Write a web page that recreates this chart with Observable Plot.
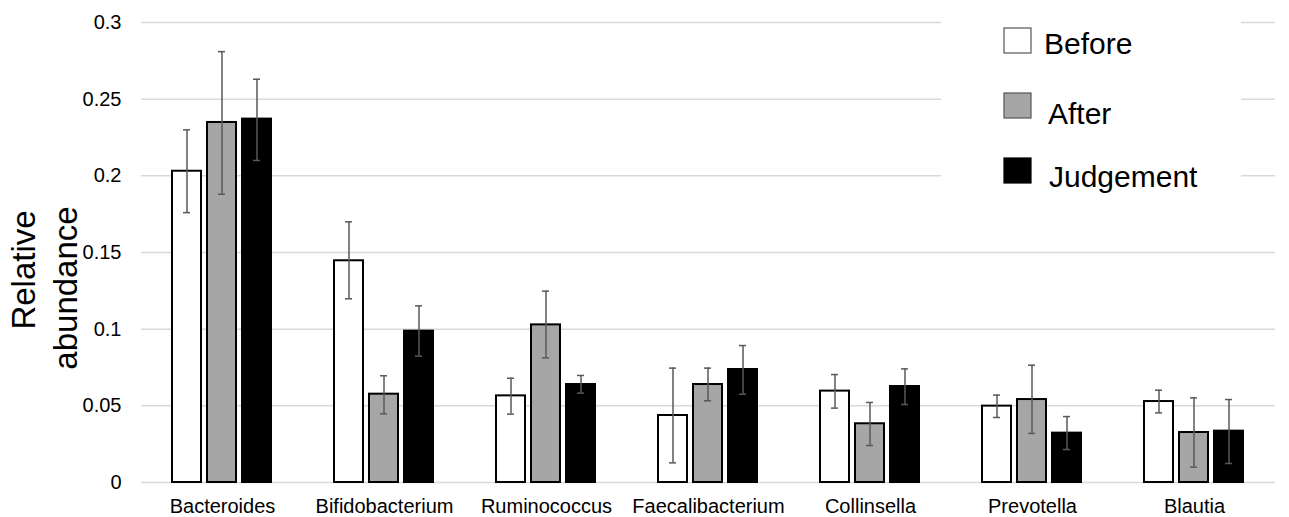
<!DOCTYPE html>
<html><head><meta charset="utf-8">
<script src="https://cdn.jsdelivr.net/npm/d3@7"></script>
<script src="https://cdn.jsdelivr.net/npm/@observablehq/plot@0.6"></script>
<style>body{margin:0;background:#fff;} #chart{width:1289px;height:517px;}</style>
</head><body><div id="chart"></div>
<script>
const genera = ["Bacteroides","Bifidobacterium","Ruminococcus","Faecalibacterium","Collinsella","Prevotella","Blautia"];
const seriesNames = ["Before","After","Judgement"];
const seriesColors = ["#ffffff","#a6a6a6","#000000"];
const yTicks = [0, 0.05, 0.1, 0.15, 0.2, 0.25, 0.3];

const beforeValues = [0.203, 0.1446, 0.0565, 0.0437, 0.0596, 0.0498, 0.0528];
const beforeLow    = [0.176, 0.1198, 0.0446, 0.0128, 0.0485, 0.0424, 0.0454];
const beforeHigh   = [0.230, 0.170,  0.068,  0.0746, 0.0704, 0.057,  0.0602];

const afterValues  = [0.2348, 0.0576, 0.1028, 0.0639, 0.0383, 0.0541, 0.0326];
const afterLow     = [0.188,  0.0448, 0.0813, 0.0533, 0.0241, 0.032,  0.010];
const afterHigh    = [0.281,  0.0696, 0.1248, 0.0746, 0.0522, 0.0765, 0.0552];

const judgeValues  = [0.237, 0.0987, 0.0639, 0.0737, 0.0626, 0.0322, 0.0335];
const judgeLow     = [0.210, 0.0824, 0.0583, 0.0576, 0.0509, 0.0215, 0.0124];
const judgeHigh    = [0.263, 0.1152, 0.0698, 0.0893, 0.0741, 0.043,  0.0541];

const seriesData = [
  [beforeValues, beforeLow, beforeHigh],
  [afterValues, afterLow, afterHigh],
  [judgeValues, judgeLow, judgeHigh]
];
const data = [];
genera.forEach((g, i) => {
  seriesNames.forEach((s, j) => {
    const [v, lo, hi] = seriesData[j];
    data.push({genus: g, series: s, value: v[i], lo: lo[i], hi: hi[i]});
  });
});

const font = "'Liberation Sans', Arial, Helvetica, sans-serif";
const errColor = "#595959";

const plot = Plot.plot({
  width: 1289, height: 517,
  marginLeft: 139, marginRight: 12, marginTop: 22, marginBottom: 35,
  style: {fontFamily: font, background: "#fff", color: "#000"},
  fx: {domain: genera, padding: 0, axis: null},
  x: {domain: seriesNames, paddingInner: 0.167, paddingOuter: 0.84, axis: null},
  y: {domain: [0, 0.3], axis: null},
  color: {domain: seriesNames, range: seriesColors},
  marks: [
    Plot.ruleY(yTicks, {stroke: "#d9d9d9", strokeWidth: 1.5}),
    Plot.axisY({ticks: yTicks, tickFormat: d => d === 0 ? "0" : String(d), tickSize: 0, tickPadding: 20, fontSize: 20, label: null, fill: "#000"}),
    Plot.axisFx({anchor: "bottom", tickSize: 0, tickPadding: 16, fontSize: 20, label: null, fill: "#000"}),
    Plot.barY(data, {fx: "genus", x: "series", y: "value", fill: "series", stroke: "#000", strokeWidth: 2}),
    Plot.ruleX(data, {fx: "genus", x: "series", y1: "lo", y2: "hi", stroke: errColor, strokeWidth: 1.5}),
    Plot.tickY(data, {fx: "genus", x: "series", y: "lo", insetLeft: 11, insetRight: 11, stroke: errColor, strokeWidth: 1.5}),
    Plot.tickY(data, {fx: "genus", x: "series", y: "hi", insetLeft: 11, insetRight: 11, stroke: errColor, strokeWidth: 1.5})
  ]
});

const svg = d3.select(plot);
// y-axis title (two lines, rotated)
const yl = svg.append("g").attr("font-family", font).attr("font-size", 33).attr("fill", "#000").attr("text-anchor", "middle");
yl.append("text").attr("transform", "translate(35,270) rotate(-90)").text("Relative");
yl.append("text").attr("transform", "translate(77,288) rotate(-90)").text("abundance");

// legend box
const lg = svg.append("g").attr("font-family", font).attr("font-size", 30).attr("fill", "#000").attr("text-anchor", "start");
lg.append("rect").attr("x", 941).attr("y", 12).attr("width", 300).attr("height", 172).attr("fill", "#fff");
const legendY = [28, 93, 158];
const legendTextX = [1044, 1048, 1049];
const legendBase = [54, 124, 187];
seriesNames.forEach((s, i) => {
  lg.append("rect").attr("x", 1004).attr("y", legendY[i]).attr("width", 27).attr("height", 25)
    .attr("fill", seriesColors[i]).attr("stroke", i === 2 ? "#000" : "#555").attr("stroke-width", 1.2);
  lg.append("text").attr("x", legendTextX[i]).attr("y", legendBase[i]).text(s);
});

document.getElementById("chart").append(plot);
</script>
</body></html>
